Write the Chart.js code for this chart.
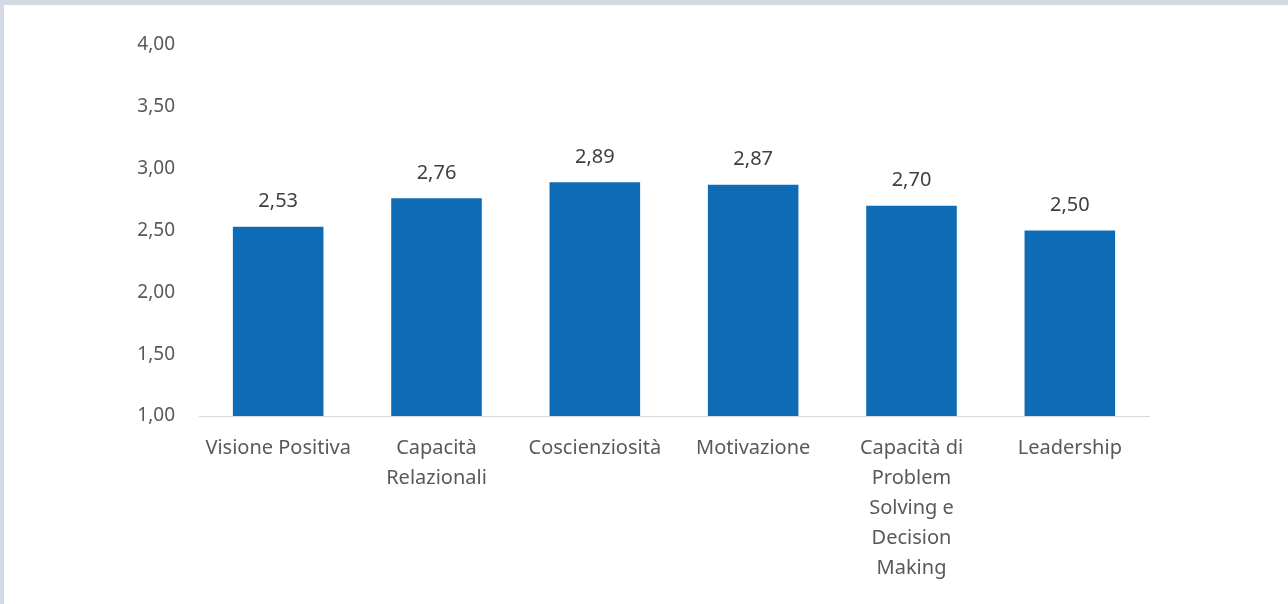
<!DOCTYPE html>
<html>
<head>
<meta charset="utf-8">
<script src="https://cdn.jsdelivr.net/npm/chart.js@4"></script>
<style>
  html, body { margin: 0; padding: 0; background: #ffffff; }
  #frame {
    position: absolute; left: 0; top: 0; width: 1288px; height: 604px;
    box-sizing: border-box;
    border-top: 5px solid #d3d9e3;
    border-left: 4px solid #d3d9e3;
    background: #ffffff;
  }
  #wrap { position: absolute; left: 0; top: 0; width: 1288px; height: 604px; }
</style>
</head>
<body>
<div id="frame"></div>
<div id="wrap"><canvas id="myChart"></canvas></div>
<script>
const categories = [
  ['Visione Positiva'],
  ['Capacità', 'Relazionali'],
  ['Coscienziosità'],
  ['Motivazione'],
  ['Capacità di', 'Problem', 'Solving e', 'Decision', 'Making'],
  ['Leadership']
];
const values = [2.53, 2.76, 2.89, 2.87, 2.70, 2.50];
const yMin = 1;
const yMax = 4;
const yStep = 0.5;

const fmt = v => v.toFixed(2).replace('.', ',');

// draws the value over each bar
const barValues = {
  id: 'barValues',
  afterDatasetsDraw(chart) {
    const ctx = chart.ctx;
    const meta = chart.getDatasetMeta(0);
    ctx.save();
    ctx.font = '20px "Noto Sans"';
    ctx.fillStyle = '#404040';
    ctx.textAlign = 'center';
    ctx.textBaseline = 'middle';
    meta.data.forEach((bar, i) => {
      ctx.fillText(fmt(values[i]), bar.x, bar.y - 25);
    });
    ctx.restore();
  }
};

const ctx = document.getElementById('myChart').getContext('2d');
new Chart(ctx, {
  type: 'bar',
  data: {
    labels: categories,
    datasets: [{
      data: values,
      backgroundColor: '#0e6bb5',
      borderWidth: 0,
      categoryPercentage: 1,
      barPercentage: 0.572
    }]
  },
  options: {
    responsive: true,
    maintainAspectRatio: false,
    animation: false,
    layout: { padding: { left: 103, right: 139, top: 45, bottom: 0 } },
    plugins: {
      legend: { display: false },
      tooltip: { enabled: false }
    },
    scales: {
      x: {
        grid: { display: false, drawTicks: false },
        border: { color: '#d9d9d9', width: 1 },
        ticks: {
          color: '#595959',
          font: { family: 'Noto Sans', size: 20, lineHeight: 1.5 },
          padding: 17,
          maxRotation: 0,
          autoSkip: false
        },
        afterFit(scale) { scale.height = 188; }
      },
      y: {
        min: yMin,
        max: yMax,
        grid: { display: false, drawTicks: false },
        border: { display: false },
        ticks: {
          stepSize: yStep,
          color: '#595959',
          font: { family: 'Noto Sans', size: 19 },
          padding: 24,
          callback: v => fmt(v)
        },
        afterFit(scale) { scale.width = 96; }
      }
    }
  },
  plugins: [barValues]
});
</script>
</body>
</html>
